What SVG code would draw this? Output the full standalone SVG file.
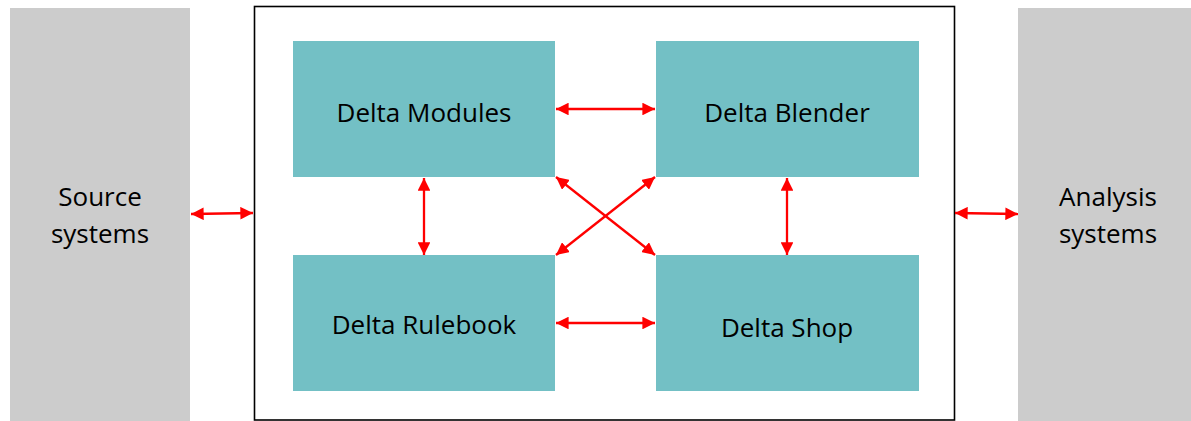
<svg xmlns="http://www.w3.org/2000/svg" width="1191" height="421" viewBox="0 0 1191 421">
<defs>
<style>
.side{fill:#CCCCCC;}
.box{fill:#73C0C5;}
.frame{fill:#FFFFFF;stroke:#000000;stroke-width:1.6;}
.lbl{font-family:"Open Sans","Liberation Sans",Arial,sans-serif;font-size:26px;fill:#000000;text-anchor:middle;}
.arr{stroke:#FF0000;stroke-width:2.3;fill:none;marker-start:url(#ah);marker-end:url(#ah);}
</style>
<marker id="ah" viewBox="0 0 10 10" refX="10" refY="5" markerWidth="5.5" markerHeight="5.5" orient="auto-start-reverse" markerUnits="strokeWidth">
<path d="M0,0 L10,5 L0,10 z" fill="#FF0000"/>
</marker>
</defs>
<rect x="0" y="0" width="1191" height="421" fill="#FFFFFF"/>
<g id="source">
<rect class="side" x="10" y="8" width="180" height="413"/>
<text class="lbl" x="100" y="206">Source</text>
<text class="lbl" x="100" y="243">systems</text>
</g>
<g id="analysis">
<rect class="side" x="1018" y="8" width="173" height="413"/>
<text class="lbl" x="1108" y="206">Analysis</text>
<text class="lbl" x="1108" y="243">systems</text>
</g>
<g id="frame">
<rect class="frame" x="254.5" y="6.5" width="700" height="413.5"/>
</g>
<g id="modules">
<rect class="box" x="293" y="41" width="262" height="136"/>
<text class="lbl" x="424" y="122">Delta Modules</text>
</g>
<g id="blender">
<rect class="box" x="656" y="41" width="263" height="136"/>
<text class="lbl" x="787" y="122">Delta Blender</text>
</g>
<g id="rulebook">
<rect class="box" x="293" y="255" width="262" height="136"/>
<text class="lbl" x="424" y="334">Delta Rulebook</text>
</g>
<g id="shop">
<rect class="box" x="656" y="255" width="263" height="136"/>
<text class="lbl" x="787" y="337">Delta Shop</text>
</g>
<g id="connectors">
<line class="arr" x1="191" y1="214" x2="253" y2="213"/>
<line class="arr" x1="955" y1="213" x2="1018" y2="214"/>
<line class="arr" x1="556" y1="109" x2="655" y2="109"/>
<line class="arr" x1="556" y1="323" x2="655" y2="323"/>
<line class="arr" x1="424" y1="178" x2="424" y2="255"/>
<line class="arr" x1="787" y1="178" x2="787" y2="255"/>
<line class="arr" x1="556" y1="177" x2="655" y2="255"/>
<line class="arr" x1="655" y1="177" x2="556" y2="255"/>
</g>
</svg>
